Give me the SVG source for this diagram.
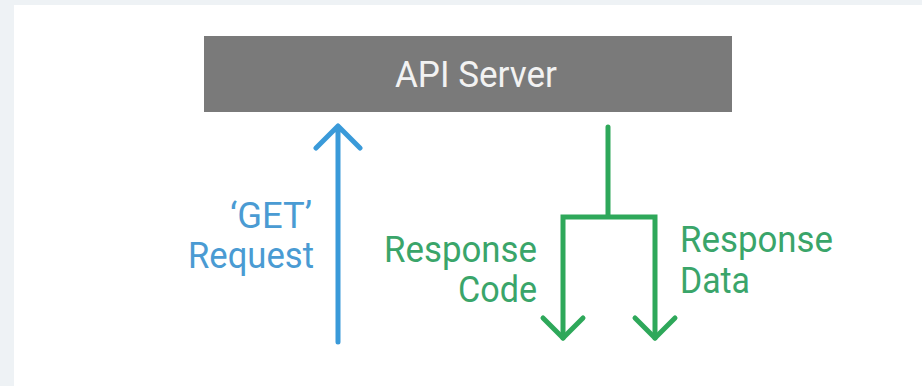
<svg xmlns="http://www.w3.org/2000/svg" width="922" height="386" viewBox="0 0 922 386">
<style>
text{font-family:Roboto,"Liberation Sans",sans-serif;font-size:37px}
.blue{fill:none;stroke:#3a9ad9;stroke-width:5;stroke-linecap:round;stroke-linejoin:round}
.green{fill:none;stroke:#2ea85a;stroke-width:5;stroke-linecap:round;stroke-linejoin:miter}
.bt{fill:#4a9bd3}
.gt{fill:#3aa56a}
</style>
<rect width="922" height="386" fill="#eef2f5"/>
<rect x="14" y="5" width="908" height="381" fill="#ffffff"/>
<g id="api-server">
<rect x="204" y="36" width="528" height="76" fill="#7a7a7a"/>
<text x="395" y="87" textLength="162" lengthAdjust="spacingAndGlyphs" style="font-size:37px" fill="#f2f2f2">API Server</text>
</g>
<g id="connectors">
<g id="get-request">
<path class="blue" d="M338 342V126M316 148L338 126L360 148"/>
<text class="bt" x="230" y="228" textLength="82" lengthAdjust="spacingAndGlyphs">‘GET’</text>
<text class="bt" x="188" y="268" textLength="126" lengthAdjust="spacingAndGlyphs">Request</text>
</g>
<g id="responses">
<path class="green" d="M608 127V217M563 338V217H655V338"/>
<path class="green" style="stroke-linejoin:round" d="M543 318L563 338L583 318M635 318L655 338L675 318"/>
<text class="gt" x="384" y="262" textLength="153" lengthAdjust="spacingAndGlyphs">Response</text>
<text class="gt" x="458" y="302" textLength="79" lengthAdjust="spacingAndGlyphs">Code</text>
<text class="gt" x="680" y="252" textLength="153" lengthAdjust="spacingAndGlyphs">Response</text>
<text class="gt" x="680" y="293" textLength="70" lengthAdjust="spacingAndGlyphs">Data</text>
</g>
</g>
</svg>
